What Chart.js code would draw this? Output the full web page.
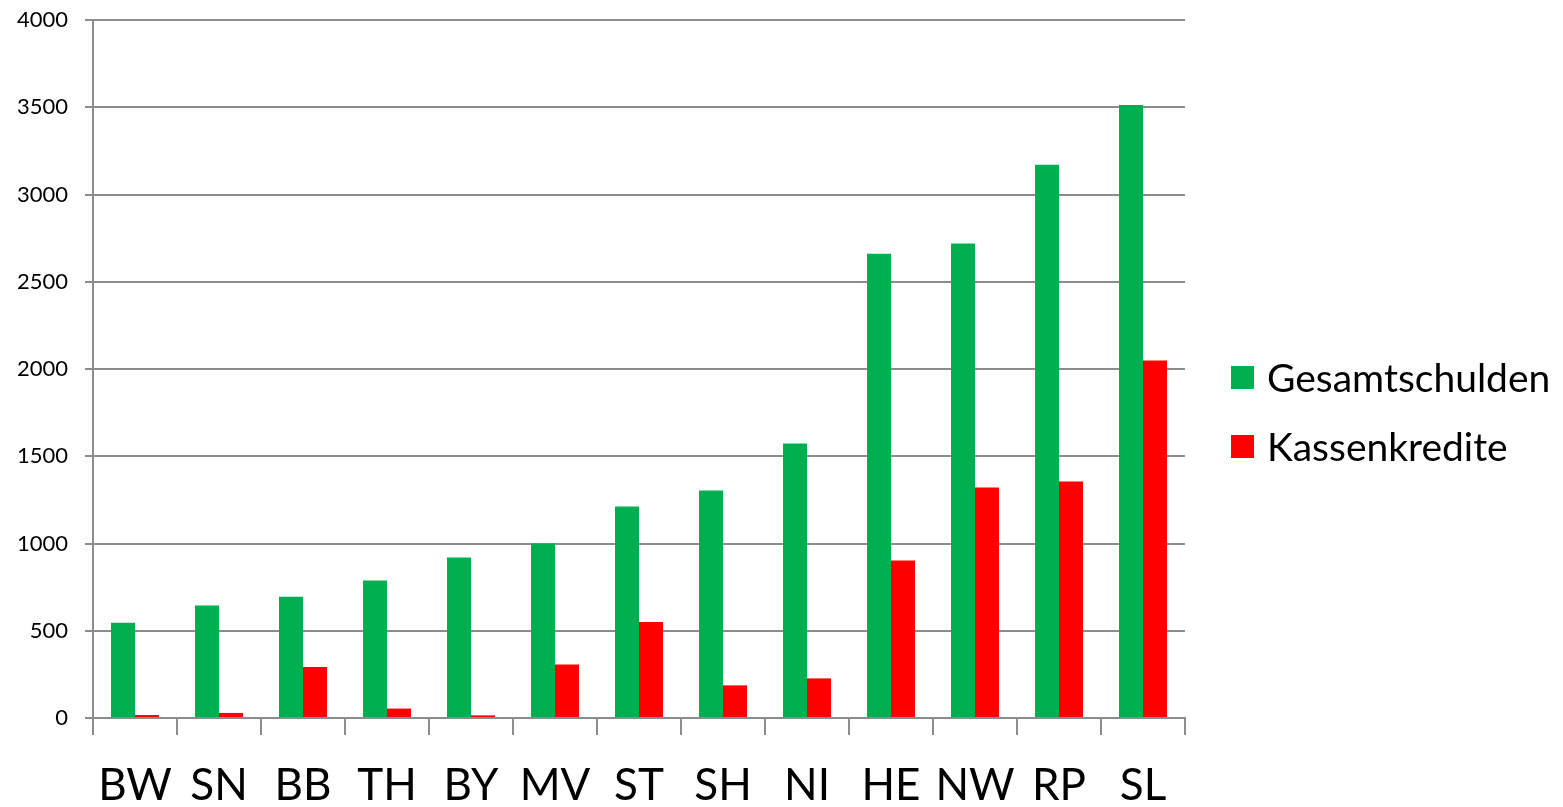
<!DOCTYPE html>
<html>
<head>
<meta charset="utf-8">
<script src="https://cdn.jsdelivr.net/npm/chart.js@4"></script>
<style>
  body { margin: 0; background: #fff; }
  #wrap { position: relative; width: 1563px; height: 807px; }
  #legend { position: absolute; left: 1231px; top: 354px; font-family: Lato, sans-serif; font-size: 39px; color: #000; }
  .item { display: flex; align-items: center; height: 46px; margin-bottom: 23px; }
  .box { width: 23px; height: 23px; margin-right: 13px; }
</style>
</head>
<body>
<div id="wrap">
  <canvas id="chart" width="1563" height="807"></canvas>
  <div id="legend"></div>
</div>
<script>
const laender = ["BW", "SN", "BB", "TH", "BY", "MV", "ST", "SH", "NI", "HE", "NW", "RP", "SL"];
const gesamtschulden = [546, 645, 695, 788, 920, 1000, 1212, 1304, 1573, 2660, 2719, 3170, 3513];
const kassenkredite = [17, 29, 292, 54, 15, 306, 550, 187, 227, 903, 1321, 1355, 2048];
const seriesNames = ["Gesamtschulden", "Kassenkredite"];
const seriesColors = ["#00B050", "#FF0000"];

const gridColor = "#8c8c8c";

const ctx = document.getElementById("chart").getContext("2d");
const chart = new Chart(ctx, {
    type: 'bar',
    data: {
        labels: laender,
        datasets: [
            { label: seriesNames[0], data: gesamtschulden, backgroundColor: seriesColors[0] },
            { label: seriesNames[1], data: kassenkredite, backgroundColor: seriesColors[1] }
        ]
    },
    options: {
        responsive: false,
        animation: false,
        layout: { padding: { left: 0, right: 378, top: 0, bottom: 0 } },
        datasets: { bar: { categoryPercentage: 0.5714, barPercentage: 1.0 } },
        plugins: {
            legend: { display: false },
            tooltip: { enabled: false }
        },
        scales: {
            x: {
                grid: { drawOnChartArea: false, color: gridColor, lineWidth: 2, tickLength: 17, offset: true },
                border: { color: gridColor, width: 2 },
                ticks: { color: "#000", font: { family: "Lato", size: 44 }, padding: 24, maxRotation: 0 },
                afterFit: function (scale) { scale.height = 89; }
            },
            y: {
                min: 0,
                max: 4000,
                ticks: {
                    stepSize: 500, color: "#000", font: { family: "Lato", size: 22 }, padding: 17,
                    callback: function (value) { return String(value); }
                },
                grid: { color: gridColor, lineWidth: 2, tickLength: 8 },
                border: { color: gridColor, width: 2 },
                afterFit: function (scale) {
                    scale.width = 93;
                    scale.paddingTop = 20;
                    scale.paddingBottom = 0;
                }
            }
        }
    }
});

const legendEl = document.getElementById("legend");
seriesNames.forEach(function (name, i) {
    const item = document.createElement("div");
    item.className = "item";
    item.innerHTML = `<span class="box" style="background:${seriesColors[i]}"></span><span>${name}</span>`;
    legendEl.appendChild(item);
});
</script>
</body>
</html>
